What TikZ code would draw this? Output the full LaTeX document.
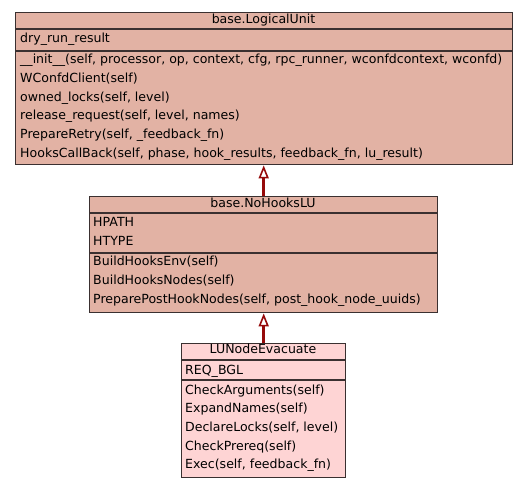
\documentclass[tikz,border=0pt]{standalone}
\usepackage{fontspec}
\setmainfont{DejaVu Sans}
\usetikzlibrary{arrows.meta}
\definecolor{salmon}{HTML}{E2B2A4}
\definecolor{pinkfill}{HTML}{FED4D4}
\definecolor{edge}{HTML}{3A3030}
\definecolor{arrowred}{HTML}{960A0A}
\tikzset{
  classbox/.style={draw=edge, line width=1.4bp, rectangle, anchor=north west, inner sep=0pt},
  divider/.style={draw=edge, line width=1.1bp},
  member/.style={anchor=west, inner sep=0pt, font=\fontsize{12.6}{14}\selectfont, text height=9.5bp, text depth=2.5bp},
  ctitle/.style={member, anchor=center},
  inherit/.style={draw=arrowred, line width=2.6bp, -{Triangle[open, width=10bp, length=13bp, line width=1.6bp]}},
}
\begin{document}
\begin{tikzpicture}[x=1bp, y=-1bp]
\useasboundingbox[fill=white] (0,0) rectangle (528,488);
% Box 1
\node[classbox, fill=salmon, minimum width=497bp, minimum height=152bp] (lu) at (15,12) {};
\draw[divider] (15,29) -- (512,29);
\draw[divider] (15,51) -- (512,51);
\node[ctitle] (luT) at (263.5,20.5) {base.LogicalUnit};
\node[member] (luA1) at (20,39) {dry\_run\_result};
\node[member] (luM1) at (20,60) {\_\_init\_\_(self, processor, op, context, cfg, rpc\_runner, wconfdcontext, wconfd)};
\node[member] (luM2) at (20,79) {WConfdClient(self)};
\node[member] (luM3) at (20,98) {owned\_locks(self, level)};
\node[member] (luM4) at (20,116.5) {release\_request(self, level, names)};
\node[member] (luM5) at (20,135) {PrepareRetry(self, \_feedback\_fn)};
\node[member] (luM6) at (20,154) {HooksCallBack(self, phase, hook\_results, feedback\_fn, lu\_result)};
% Box 2
\node[classbox, fill=salmon, minimum width=348bp, minimum height=116bp] (nh) at (89,196) {};
\draw[divider] (89,213) -- (437,213);
\draw[divider] (89,253) -- (437,253);
\node[ctitle] (nhT) at (263,204.5) {base.NoHooksLU};
\node[member] (nhA1) at (93,222.5) {HPATH};
\node[member] (nhA2) at (93,241.5) {HTYPE};
\node[member] (nhM1) at (93,262) {BuildHooksEnv(self)};
\node[member] (nhM2) at (93,281) {BuildHooksNodes(self)};
\node[member] (nhM3) at (93,299.5) {PreparePostHookNodes(self, post\_hook\_node\_uuids)};
% Box 3
\node[classbox, fill=pinkfill, minimum width=164bp, minimum height=134bp] (ev) at (181,343) {};
\draw[divider] (181,360) -- (345,360);
\draw[divider] (181,380) -- (345,380);
\node[ctitle] (evT) at (263,350) {LUNodeEvacuate};
\node[member] (evA1) at (185,370.5) {REQ\_BGL};
\node[member] (evM1) at (185,390.5) {CheckArguments(self)};
\node[member] (evM2) at (185,409) {ExpandNames(self)};
\node[member] (evM3) at (185,427.5) {DeclareLocks(self, level)};
\node[member] (evM4) at (185,446.5) {CheckPrereq(self)};
\node[member] (evM5) at (185,465) {Exec(self, feedback\_fn)};
% Inheritance
\draw[inherit] (nh.north) -- (nh.north |- lu.south);
\draw[inherit] (ev.north) -- (ev.north |- nh.south);
\end{tikzpicture}
\end{document}
